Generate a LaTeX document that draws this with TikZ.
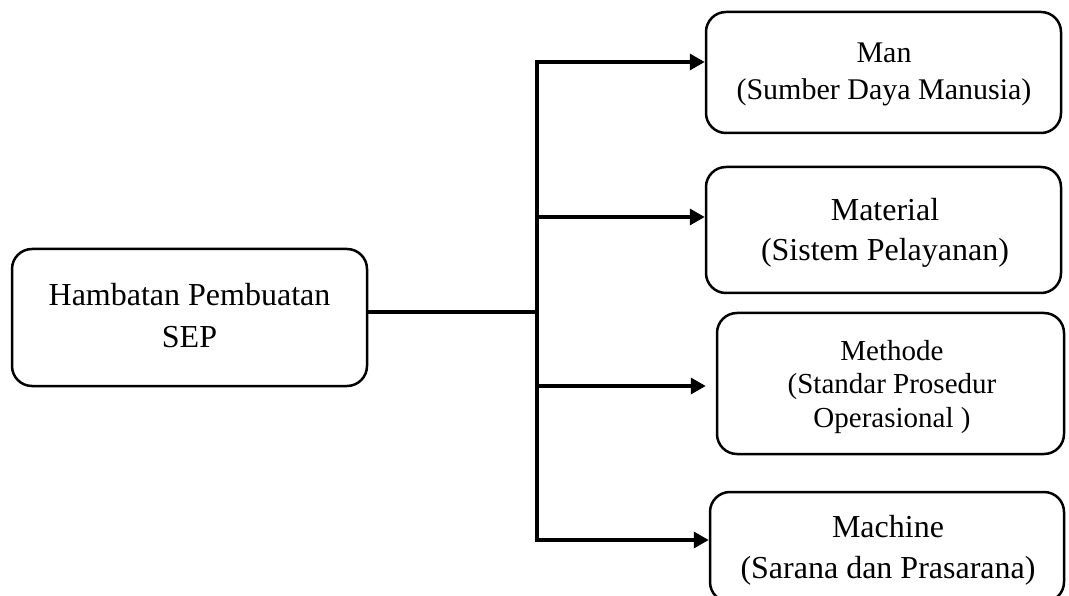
\documentclass[tikz,border=0pt]{standalone}
\usepackage{fontspec}
\setmainfont{Liberation Serif}
\usetikzlibrary{arrows.meta}
\begin{document}
\begin{tikzpicture}[x=1pt,y=-1pt,
  box/.style={draw,line width=2.5pt,rounded corners=20pt,inner sep=0pt},
  lbl/.style={align=center,inner sep=0pt},
  conn/.style={line width=3.4pt},
  arr/.style={line width=3.4pt,-{Triangle[length=15pt,width=16pt]}}]
\useasboundingbox (0,0) rectangle (1069,596);
% boxes
\node[box,minimum width=355pt,minimum height=137pt] (hb) at (189.5,317.5) {};
\node[box,minimum width=355pt,minimum height=121pt] (man) at (883.5,72.5) {};
\node[box,minimum width=355pt,minimum height=126pt] (mat) at (883.5,230) {};
\node[box,minimum width=347pt,minimum height=141pt] (met) at (890.5,383.5) {};
\node[box,minimum width=354pt,minimum height=110pt] (mac) at (887,547) {};
% texts
\node[lbl,font=\fontsize{32}{42}\selectfont] (hbT) at (189.5,315.2) {Hambatan Pembuatan\\SEP};
\node[lbl,font=\fontsize{30}{37}\selectfont] (manT) at (884,74.8) {Man\\(Sumber Daya Manusia)};
\node[lbl,font=\fontsize{32}{40}\selectfont] (matT) at (885,232.5) {Material\\(Sistem Pelayanan)};
\node[lbl,font=\fontsize{29}{33.5}\selectfont] (metT) at (892,386.8) {Methode\\(Standar Prosedur\\Operasional )};
\node[lbl,font=\fontsize{32}{41}\selectfont] (macT) at (888,550) {Machine\\(Sarana dan Prasarana)};
% connectors
\coordinate (j) at (537,312);
\coordinate (t1) at (537,62);
\coordinate (t2) at (537,217);
\coordinate (t3) at (537,386);
\coordinate (t4) at (537,540);
\draw[conn] (hb.east |- j) -- (j);
\draw[conn,line cap=rect] (t1) -- (t4);
\draw[arr] (t1) -- (t1 -| man.west);
\draw[arr] (t2) -- (t2 -| mat.west);
\draw[arr,shorten >=10pt] (t3) -- (t3 -| met.west);
\draw[arr] (t4) -- (t4 -| mac.west);
\end{tikzpicture}
\end{document}
